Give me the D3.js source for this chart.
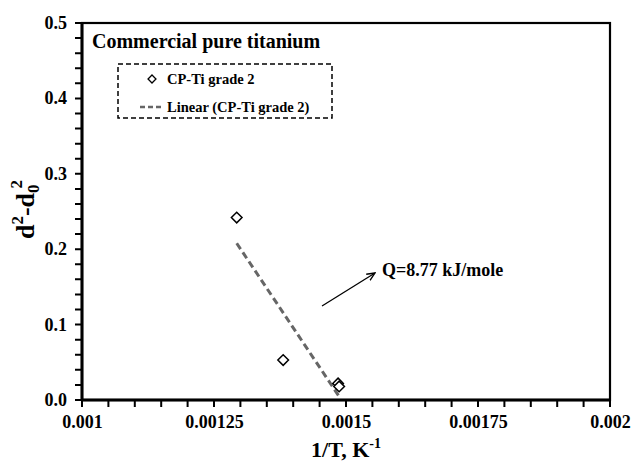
<!DOCTYPE html>
<html>
<head>
<meta charset="utf-8">
<script src="https://cdn.jsdelivr.net/npm/d3@7"></script>
<style>
  html, body { margin: 0; padding: 0; background: #fff; }
  svg { display: block; font-family: "Liberation Serif", "Times New Roman", serif; font-weight: bold; }
</style>
</head>
<body>
<svg id="chart" width="633" height="463"></svg>
<script>
// Grain growth data: 1/T (K^-1) against d^2 - d0^2
const invT = [0.001293, 0.001381, 0.001485, 0.001487];
const dSq  = [0.242, 0.053, 0.022, 0.018];
const xTicks = [0.001, 0.00125, 0.0015, 0.00175, 0.002];
const xTickLabels = ["0.001", "0.00125", "0.0015", "0.00175", "0.002"];
const yTicks = [0, 0.1, 0.2, 0.3, 0.4, 0.5];
const yTickLabels = ["0.0", "0.1", "0.2", "0.3", "0.4", "0.5"];
const seriesName = "CP-Ti grade 2";
const trendName = "Linear (CP-Ti grade 2)";
const annotation = "Q=8.77 kJ/mole";

const svg = d3.select("#chart");
const m = { left: 82, right: 23, top: 23, bottom: 63 };
const W = 633, H = 463;
const x = d3.scaleLinear().domain([0.001, 0.002]).range([m.left, W - m.right]);
const y = d3.scaleLinear().domain([0, 0.5]).range([H - m.bottom, m.top]);

// plot frame
svg.append("rect")
  .attr("x", x(0.001)).attr("y", y(0.5))
  .attr("width", x(0.002) - x(0.001)).attr("height", y(0) - y(0.5))
  .attr("fill", "none").attr("stroke", "#000").attr("stroke-width", 2.2);

// tick marks every 0.00005 on x and 0.02 on y, pointing outward
const xMinor = d3.range(0, 21).map(i => 0.001 + i * 0.00005);
const yMinor = d3.range(0, 26).map(i => i * 0.02);
const tickPath = d3.path();
xMinor.forEach(v => { tickPath.moveTo(x(v), y(0)); tickPath.lineTo(x(v), y(0) + 7); });
yMinor.forEach(v => { tickPath.moveTo(x(0.001) - 7, y(v)); tickPath.lineTo(x(0.001), y(v)); });
svg.append("path").attr("d", tickPath.toString())
  .style("stroke", "#000").style("stroke-width", "2px").style("fill", "none");

// heavier axis lines
svg.append("line").attr("x1", x(0.001)).attr("x2", x(0.002)).attr("y1", y(0)).attr("y2", y(0))
  .attr("stroke", "#000").attr("stroke-width", 3);
svg.append("line").attr("x1", x(0.001)).attr("x2", x(0.001)).attr("y1", y(0)).attr("y2", y(0.5))
  .attr("stroke", "#000").attr("stroke-width", 3);

// major tick labels
const xLab = d3.axisBottom(x).tickValues(xTicks).tickSize(0)
  .tickFormat((d, i) => xTickLabels[i]).tickPadding(15);
const gxl = svg.append("g").attr("transform", `translate(0,${y(0)})`).call(xLab);
const yLab = d3.axisLeft(y).tickValues(yTicks).tickSize(0)
  .tickFormat((d, i) => yTickLabels[i]).tickPadding(15);
const gyl = svg.append("g").attr("transform", `translate(${x(0.001)},0)`).call(yLab);
[gxl, gyl].forEach(g => {
  g.select(".domain").remove();
  g.selectAll(".tick line").remove();
  g.selectAll(".tick text").attr("fill", "#000")
    .style("font-family", "'Liberation Serif', serif")
    .style("font-weight", "bold").style("font-size", "18px");
});
gyl.selectAll(".tick text").attr("dy", "0.3em");

// linear trend line (least squares)
const n = invT.length;
const mx = d3.mean(invT), my = d3.mean(dSq);
let sxy = 0, sxx = 0;
for (let i = 0; i < n; i++) {
  sxy += (invT[i] - mx) * (dSq[i] - my);
  sxx += (invT[i] - mx) ** 2;
}
const slope = sxy / sxx, icpt = my - slope * mx;
const [x0, x1] = d3.extent(invT);
svg.append("line")
  .attr("x1", x(x0)).attr("y1", y(slope * x0 + icpt))
  .attr("x2", x(x1)).attr("y2", y(slope * x1 + icpt))
  .attr("stroke", "#666").attr("stroke-width", 3).attr("stroke-dasharray", "7,4");

// data markers
const diamond = d3.symbol().type(d3.symbolDiamond2).size(72);
svg.append("g").selectAll("path").data(invT).join("path")
  .attr("d", diamond)
  .attr("transform", (d, i) => `translate(${x(d)},${y(dSq[i])})`)
  .attr("fill", "#fff").attr("stroke", "#000").attr("stroke-width", 1.5);

// title inside plot
svg.append("text").attr("x", 92).attr("y", 48)
  .style("font-size", "20px").text("Commercial pure titanium");

// legend
const lg = svg.append("g");
lg.append("rect").attr("x", 118).attr("y", 64).attr("width", 214).attr("height", 54)
  .attr("fill", "#fff").attr("stroke", "#000").attr("stroke-width", 1.5)
  .attr("stroke-dasharray", "5,3");
lg.append("path").attr("d", d3.symbol().type(d3.symbolDiamond2).size(40))
  .attr("transform", "translate(152,79)")
  .attr("fill", "#fff").attr("stroke", "#000").attr("stroke-width", 1.3);
lg.append("text").attr("x", 167).attr("y", 84).style("font-size", "14.5px").text(seriesName);
lg.append("line").attr("x1", 140).attr("x2", 164).attr("y1", 107).attr("y2", 107)
  .attr("stroke", "#666").attr("stroke-width", 2.5).attr("stroke-dasharray", "5,3");
lg.append("text").attr("x", 167).attr("y", 112).style("font-size", "14.5px").text(trendName);

// annotation arrow
svg.append("defs").append("marker")
  .attr("id", "arr").attr("viewBox", "0 0 10 10").attr("refX", 9).attr("refY", 5)
  .attr("markerWidth", 9).attr("markerHeight", 9).attr("orient", "auto")
  .attr("markerUnits", "userSpaceOnUse")
  .append("path").attr("d", "M0,1 L9,5 L0,9").attr("fill", "none")
  .attr("stroke", "#000").attr("stroke-width", 1.5);
svg.append("line").attr("x1", 322).attr("y1", 306).attr("x2", 375).attr("y2", 273)
  .attr("stroke", "#000").attr("stroke-width", 1.3).attr("marker-end", "url(#arr)");
svg.append("text").attr("x", 382).attr("y", 276).style("font-size", "18px").text(annotation);

// axis titles
const xt = svg.append("text").attr("x", (x(0.001) + x(0.002)) / 2).attr("y", 457)
  .attr("text-anchor", "middle").style("font-size", "22px");
xt.append("tspan").text("1/T, K");
xt.append("tspan").attr("dy", -9).style("font-size", "14px").text("-1");

const yt = svg.append("text")
  .attr("transform", `translate(34,${(y(0) + y(0.5)) / 2 - 2}) rotate(-90)`)
  .attr("text-anchor", "middle").style("font-size", "26px");
yt.append("tspan").text("d");
yt.append("tspan").attr("dy", -11).style("font-size", "17px").text("2");
yt.append("tspan").attr("dy", 11).text("-d");
yt.append("tspan").attr("dy", 5).style("font-size", "17px").text("0");
yt.append("tspan").attr("dy", -17).attr("dx", -4).style("font-size", "17px").text("2");
</script>
</body>
</html>
